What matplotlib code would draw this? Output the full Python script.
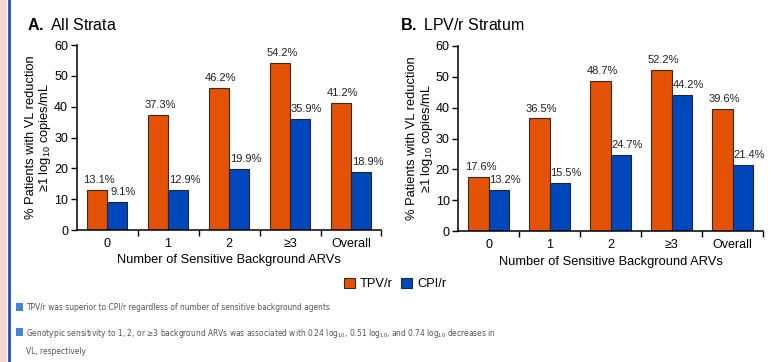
import matplotlib
matplotlib.use("Agg")
import matplotlib.pyplot as plt
import numpy as np
from matplotlib.patches import Rectangle
from matplotlib.lines import Line2D

plt.rcParams['font.family'] = ['Liberation Sans', 'DejaVu Sans']
plt.rcParams['mathtext.fontset'] = 'custom'
plt.rcParams['mathtext.rm'] = 'Liberation Sans'
plt.rcParams['mathtext.bf'] = 'Liberation Sans:bold'
plt.rcParams['mathtext.it'] = 'Liberation Sans:italic'

categories = ["0", "1", "2", "\u22653", "Overall"]
series_names = ["TPV/r", "CPI/r"]
all_tpv = [13.1, 37.3, 46.2, 54.2, 41.2]
all_cpi = [9.1, 12.9, 19.9, 35.9, 18.9]
lpv_tpv = [17.6, 36.5, 48.7, 52.2, 39.6]
lpv_cpi = [13.2, 15.5, 24.7, 44.2, 21.4]
yticks = [0, 10, 20, 30, 40, 50, 60]

ORANGE = "#E35205"
BLUE = "#0047BB"
W, H = 771, 362

fig = plt.figure(figsize=(W / 100, H / 100), dpi=100)

# left decoration: pink strip + blue border
fig.patches.append(Rectangle((0, 0), 7 / W, 1, transform=fig.transFigure,
                             facecolor="#F6D6D0", edgecolor="none"))
fig.add_artist(Line2D([8.5 / W, 8.5 / W], [0, 1], transform=fig.transFigure,
                      color="#1F4FC8", lw=2))

def make_axes(x0, x1, ytop, ybot):
    return fig.add_axes([x0 / W, 1 - ybot / H, (x1 - x0) / W, (ybot - ytop) / H])

def draw_panel(ax, tpv, cpi):
    x = np.arange(len(categories))
    bw = 0.335
    b1 = ax.bar(x - bw / 2, tpv, bw, color=ORANGE, edgecolor="#3a2a20", linewidth=0.8)
    b2 = ax.bar(x + bw / 2, cpi, bw, color=BLUE, edgecolor="#20263a", linewidth=0.8)
    for bars, vals, dx in ((b1, tpv, 1.5), (b2, cpi, 4.5)):
        for rect, v in zip(bars, vals):
            ax.annotate(f"{v:.1f}%", (rect.get_x() + rect.get_width() / 2, v),
                        xytext=(dx, 3.5), textcoords="offset points",
                        ha="center", va="bottom", fontsize=8, color="#222222")
    ax.set_xlim(-0.5, len(categories) - 0.5)
    ax.set_ylim(0, 60)
    ax.set_yticks(yticks)
    ax.set_xticks(x)
    ax.set_xticklabels(categories, fontsize=9)
    ax.set_xticks(np.arange(len(categories)) + 0.5, minor=True)
    ax.tick_params(axis="x", which="major", length=0, pad=6)
    ax.tick_params(axis="x", which="minor", length=4, width=1, direction="out")
    ax.tick_params(axis="y", length=4, width=1, labelsize=9, pad=2)
    for s in ("top", "right"):
        ax.spines[s].set_visible(False)
    for s in ("left", "bottom"):
        ax.spines[s].set_linewidth(1.1)
    ax.set_xlabel("Number of Sensitive Background ARVs", fontsize=9.3, labelpad=3)
    ax.set_ylabel("% Patients with VL reduction\n\u22651 log$_{10}$ copies/mL",
                  fontsize=9.3, labelpad=0.5, linespacing=1.05)
    return b1, b2

axA = make_axes(76.5, 381.5, 45, 230)
bA1, bA2 = draw_panel(axA, all_tpv, all_cpi)
axB = make_axes(458, 763, 46, 231)
draw_panel(axB, lpv_tpv, lpv_cpi)

fig.text(27 / W, 1 - 30 / H, r"$\mathbf{A.}$ All Strata", fontsize=11.5, ha="left", va="baseline")
fig.text(400 / W, 1 - 30 / H, r"$\mathbf{B.}$ LPV/r Stratum", fontsize=11.5, ha="left", va="baseline")

fig.legend([bA1, bA2], series_names, loc="center", bbox_to_anchor=(395 / W, 1 - 284 / H),
           ncol=2, frameon=False, fontsize=9.3, handlelength=0.85, handleheight=0.85,
           handletextpad=0.35, columnspacing=0.7, borderpad=0)

# bullets
bullet_color = "#3E86D8"
text_color = "#555555"
bfam = ['DejaVu Sans', 'Liberation Sans']
for yb in (307, 332):
    fig.patches.append(Rectangle((16 / W, 1 - (yb + 4) / H), 7 / W, 8 / H,
                                 transform=fig.transFigure, facecolor=bullet_color,
                                 edgecolor="none"))
kw = dict(fontsize=6.0, color=text_color, family=bfam, fontstretch="condensed",
          va="center", ha="left")
fig.text(26 / W, 1 - 308 / H,
         "TPV/r was superior to CPI/r regardless of number of sensitive background agents", **kw)
fig.text(26 / W, 1 - 333 / H,
         "Genotypic sensitivity to 1, 2, or \u22653 background ARVs was associated with 0.24 log$_{10}$, "
         "0.51 log$_{10}$, and 0.74 log$_{10}$ decreases in", **kw)
fig.text(26 / W, 1 - 352 / H, "VL, respectively", **kw)

fig.savefig("out.png", dpi=100)
